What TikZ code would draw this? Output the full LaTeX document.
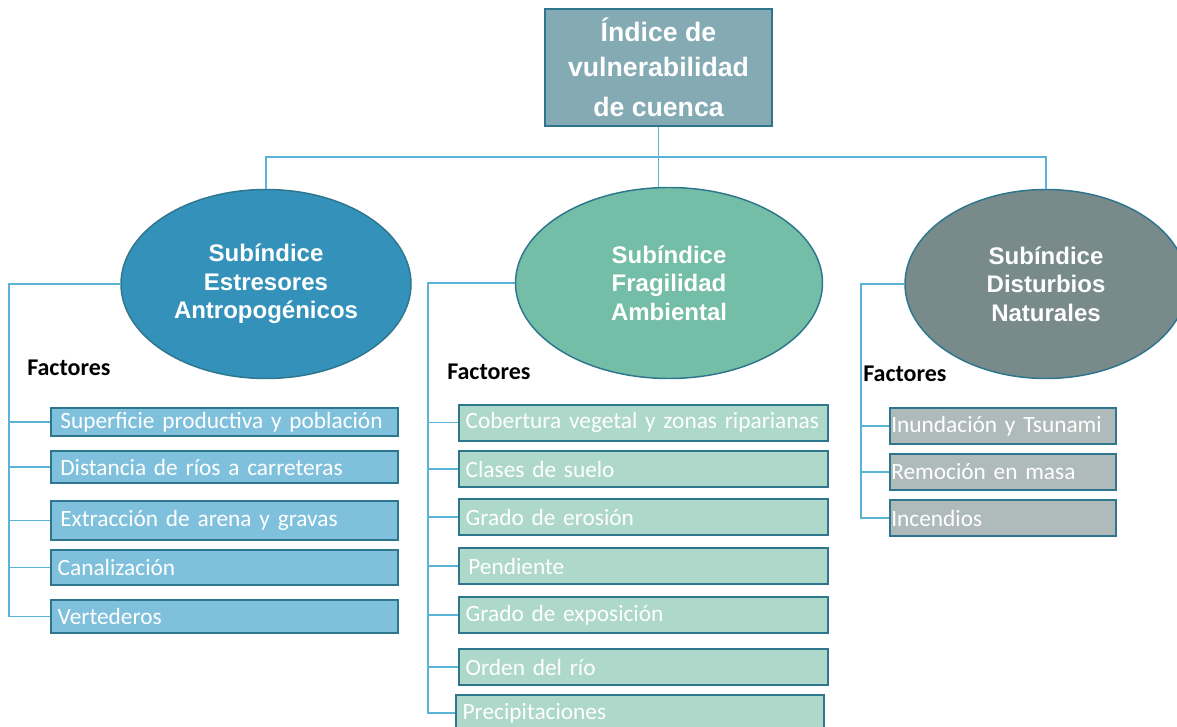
\documentclass[tikz,border=0pt]{standalone}
\usepackage{fontspec}
\usetikzlibrary{shapes.geometric}
\newfontfamily\arialfont{Liberation Sans}
\newfontfamily\calfont{Carlito}
\definecolor{linie}{RGB}{91,180,216}
\definecolor{rand}{RGB}{46,118,142}
\definecolor{indexfill}{RGB}{132,170,180}
\definecolor{estresor}{RGB}{52,146,186}
\definecolor{fragil}{RGB}{116,189,166}
\definecolor{disturbio}{RGB}{120,138,138}
\definecolor{estresor-lighter}{RGB}{127,192,220}
\definecolor{fragil-lighter}{RGB}{174,216,202}
\definecolor{disturbio-lighter}{RGB}{175,187,186}
\newcommand{\fline}[1]{\makebox[\linewidth][l]{#1}}

\begin{document}
\begin{tikzpicture}[x=0.75pt, y=-0.75pt,
    link/.style={draw=linie, line width=1pt},
    subindex/.style={ellipse, draw=rand, line width=1.1pt, text=white, align=center, inner sep=0pt, font=\arialfont\bfseries\fontsize{18}{21.5}\selectfont},
    factorbox/.style={draw=rand, line width=1.5pt, text=white, anchor=west, align=left, inner xsep=5pt, inner ysep=0pt, minimum height=27pt, font=\calfont\fontsize{17.5}{20}\selectfont},
    factortitle/.style={anchor=west, inner sep=0pt, font=\calfont\bfseries\fontsize{18}{20}\selectfont}]

    \useasboundingbox (0,0) rectangle (1177,727);

    % index and subindices
    \node[draw=rand, fill=indexfill, line width=1.5pt, minimum width=170.25pt, minimum height=87.75pt, text=white, align=center, font=\arialfont\bfseries\fontsize{20}{26}\selectfont] (indice) at (658.5,67.5) {Índice de\\vulnerabilidad\\[4pt]de cuenca};

    \node[subindex, fill=estresor, minimum width=217.5pt, minimum height=141.75pt] (e1) at (266,284) {Subíndice\\Estresores\\Antropogénicos};
    \node[subindex, fill=fragil, minimum width=230.25pt, minimum height=143.25pt] (e2) at (669,283) {Subíndice\\Fragilidad\\Ambiental};
    \node[subindex, fill=disturbio, minimum width=211.5pt, minimum height=141.75pt] (e3) at (1046,284) {Subíndice\\Disturbios\\Naturales};

    \coordinate (hub) at (658.5,157);
    \draw[link] (indice.south) -- (indice.south |- e2.north);
    \draw[link] (e1.north) |- (hub) -| (e3.north);

    % Estresores
    \node[factortitle] (f1) at (27,368) {Factores};
    \node[factorbox, fill=estresor-lighter, text width=250.25pt, minimum height=21pt] (a1) at (50,422) {\fline{\hspace{2pt}Superficie productiva y población}};
    \node[factorbox, fill=estresor-lighter, text width=250.25pt, minimum height=24pt] (a2) at (50,467) {\fline{\hspace{2pt}Distancia de ríos a carreteras}};
    \node[factorbox, fill=estresor-lighter, text width=250.25pt, minimum height=29pt] (a3) at (50,520.5) {\fline{\hspace{2pt}Extracción de arena y gravas}};
    \node[factorbox, fill=estresor-lighter, text width=250.25pt, minimum height=26pt] (a4) at (50,567.5) {\fline{Canalización}};
    \node[factorbox, fill=estresor-lighter, text width=250.25pt, minimum height=25pt] (a5) at (50,616.5) {\fline{Vertederos}};

    \coordinate (r1) at (9,284);
    \draw[link] (e1.west) -- (r1) |- (a5.west);
    \draw[link] (r1) |- (a1.west);
    \draw[link] (r1) |- (a2.west);
    \draw[link] (r1) |- (a3.west);
    \draw[link] (r1) |- (a4.west);

    % Fragilidad
    \node[factortitle] (f2) at (447,372) {Factores};
    \node[factorbox, fill=fragil-lighter, text width=266.75pt] (b1) at (458,422.5) {\fline{Cobertura vegetal y zonas riparianas}};
    \node[factorbox, fill=fragil-lighter, text width=266.75pt] (b2) at (458,469) {\fline{Clases de suelo}};
    \node[factorbox, fill=fragil-lighter, text width=266.75pt] (b3) at (458,517) {\fline{Grado de erosión}};
    \node[factorbox, fill=fragil-lighter, text width=266.75pt] (b4) at (458,566) {\fline{\hspace{2pt}Pendiente}};
    \node[factorbox, fill=fragil-lighter, text width=266.75pt] (b5) at (458,615) {\fline{Grado de exposición}};
    \node[factorbox, fill=fragil-lighter, text width=266.75pt] (b6) at (458,667) {\fline{Orden del río}};
    \node[factorbox, fill=fragil-lighter, text width=266pt] (b7) at (455,713) {\fline{Precipitaciones}};

    \coordinate (r2) at (428,283);
    \draw[link] (e2.west) -- (r2) |- (b7.west);
    \draw[link] (r2) |- (b1.west);
    \draw[link] (r2) |- (b2.west);
    \draw[link] (r2) |- (b3.west);
    \draw[link] (r2) |- (b4.west);
    \draw[link] (r2) |- (b5.west);
    \draw[link] (r2) |- (b6.west);

    % Disturbios
    \node[factortitle] (f3) at (863,374) {Factores};
    \node[factorbox, fill=disturbio-lighter, text width=167.5pt, inner xsep=1pt] (c1) at (889,426) {\fline{Inundación y Tsunami}};
    \node[factorbox, fill=disturbio-lighter, text width=167.5pt, inner xsep=1pt] (c2) at (889,472) {\fline{Remoción en masa}};
    \node[factorbox, fill=disturbio-lighter, text width=167.5pt, inner xsep=1pt] (c3) at (889,518) {\fline{Incendios}};

    \coordinate (r3) at (861,284);
    \draw[link] (e3.west) -- (r3) |- (c3.west);
    \draw[link] (r3) |- (c1.west);
    \draw[link] (r3) |- (c2.west);

\end{tikzpicture}
\end{document}
